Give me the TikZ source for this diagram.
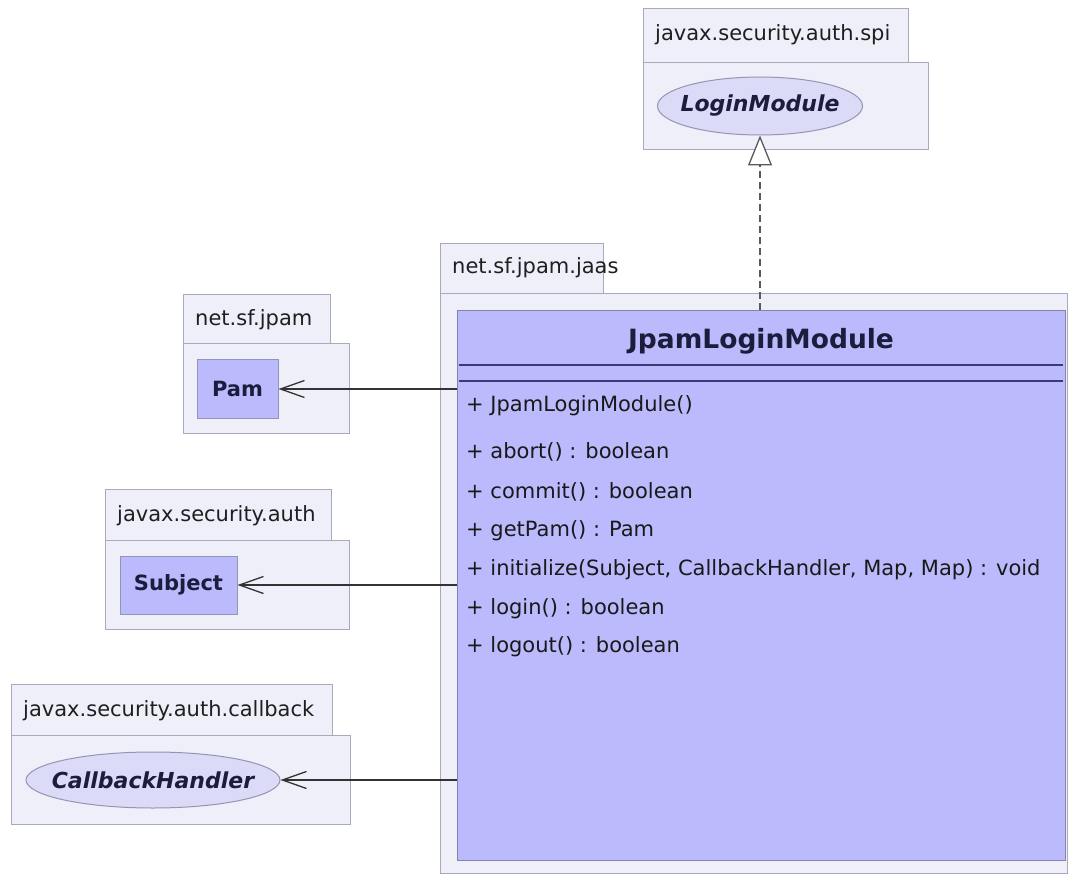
\documentclass[tikz,border=0pt]{standalone}
\usepackage{fontspec}
\setmainfont{DejaVu Sans}
\usetikzlibrary{arrows.meta,shapes.geometric}
\definecolor{pkgfill}{HTML}{EFEFFA}
\definecolor{pkgline}{HTML}{A9A9BC}
\definecolor{clsfill}{HTML}{BABAFC}
\definecolor{clsline}{HTML}{8383AC}
\definecolor{ifcfill}{HTML}{DBDBF7}
\definecolor{ifcline}{HTML}{9494B4}
\definecolor{sepline}{HTML}{3A3A78}
\definecolor{inktext}{HTML}{1C1C3C}
\tikzset{
  pkgtab/.style={draw=pkgline, fill=pkgfill, line width=1pt, anchor=north west,
    inner sep=0pt, font=\fontsize{21}{24}\selectfont, text=black!85},
  pkgbody/.style={draw=pkgline, fill=pkgfill, line width=1pt, anchor=north west, inner sep=0pt},
  pkgname/.style={anchor=west, inner sep=0pt, font=\fontsize{21}{24}\selectfont, text=black!88},
  classbox/.style={draw=clsline, fill=clsfill, line width=1pt, anchor=north west, inner sep=0pt},
  smallclass/.style={draw=ifcline, fill=clsfill, line width=1pt, inner sep=0pt,
    font=\fontsize{21}{24}\selectfont\bfseries, text=inktext},
  iface/.style={ellipse, draw=ifcline, fill=ifcfill, line width=1pt, inner xsep=-12pt, inner ysep=0pt,
    font=\fontsize{22}{25}\selectfont\bfseries\itshape, text=inktext},
  member/.style={anchor=west, inner sep=0pt, font=\fontsize{21}{24}\selectfont, text=black!90},
  usage/.style={draw=black!80, line width=1.1pt, -{Straight Barb[length=24pt, width=17pt, line width=1.3pt]}},
  realize/.style={draw=black!65, line width=1.3pt, dash pattern=on 7pt off 4pt,
    -{Triangle[open, length=30pt, width=24pt, line width=1.3pt, fill=white]}},
}
\begin{document}
\begin{tikzpicture}[x=1pt, y=-1pt]
\useasboundingbox (0,0) rectangle (1068,874);

% package javax.security.auth.spi
\node[pkgtab, minimum width=265pt, minimum height=54pt] (spitab) at (643,8) {};
\node[pkgname] (spiname) at (655,35) {javax.security.auth.spi};
\node[pkgbody, minimum width=285pt, minimum height=87pt] (spibody) at (643,62) {};
\node[iface, minimum width=205pt, minimum height=58pt] (loginmodule) at (760,106) {LoginModule};

% package net.sf.jpam.jaas
\node[pkgtab, minimum width=163pt, minimum height=50pt] (jaastab) at (440,243) {};
\node[pkgname] (jaasname) at (452,268) {net.sf.jpam.jaas};
\node[pkgbody, minimum width=627pt, minimum height=580pt] (jaasbody) at (440,293) {};
\node[classbox, minimum width=608pt, minimum height=550pt] (jlm) at (457,310) {};
\node[inner sep=0pt, font=\fontsize{26.5}{30}\selectfont\bfseries, text=inktext] (jlmtitle) at (761,341) {JpamLoginModule};
\coordinate (sepAl) at (459,365); \coordinate (sepAr) at (1063,365);
\coordinate (sepBl) at (459,381); \coordinate (sepBr) at (1063,381);
\draw[sepline, line width=1.6pt] (sepAl) -- (sepAr);
\draw[sepline, line width=1.6pt] (sepBl) -- (sepBr);
\node[member] (m0) at (466,406) {+ JpamLoginModule()};
\node[member] (m1) at (466,452) {+ abort() : boolean};
\node[member] (m2) at (466,492) {+ commit() : boolean};
\node[member] (m3) at (466,531) {+ getPam() : Pam};
\node[member] (m4) at (466,570) {+ initialize(Subject, CallbackHandler, Map, Map) : void};
\node[member] (m5) at (466,609) {+ login() : boolean};
\node[member] (m6) at (466,647) {+ logout() : boolean};

% package net.sf.jpam
\node[pkgtab, minimum width=147pt, minimum height=49pt] (jpamtab) at (183,294) {};
\node[pkgname] (jpamname) at (195,320) {net.sf.jpam};
\node[pkgbody, minimum width=166pt, minimum height=90pt] (jpambody) at (183,343) {};
\node[smallclass, minimum width=81pt, minimum height=58pt] (pam) at (237.5,389) {Pam};

% package javax.security.auth
\node[pkgtab, minimum width=226pt, minimum height=51pt] (authtab) at (105,489) {};
\node[pkgname] (authname) at (117,516) {javax.security.auth};
\node[pkgbody, minimum width=244pt, minimum height=89pt] (authbody) at (105,540) {};
\node[smallclass, minimum width=117pt, minimum height=58pt] (subject) at (178.5,585) {Subject};

% package javax.security.auth.callback
\node[pkgtab, minimum width=321pt, minimum height=51pt] (cbtab) at (11,684) {};
\node[pkgname] (cbname) at (23,711) {javax.security.auth.callback};
\node[pkgbody, minimum width=339pt, minimum height=89pt] (cbbody) at (11,735) {};
\node[iface, minimum width=254pt, minimum height=56pt] (handler) at (153,780) {CallbackHandler};

% dependencies and realization
\draw[usage] (jlm.west |- pam.east) -- (pam.east);
\draw[usage] (jlm.west |- subject.east) -- (subject.east);
\draw[usage] (jlm.west |- handler.east) -- (handler.east);
\draw[realize] (jlm.north -| loginmodule.south) -- (loginmodule.south);
\end{tikzpicture}
\end{document}
